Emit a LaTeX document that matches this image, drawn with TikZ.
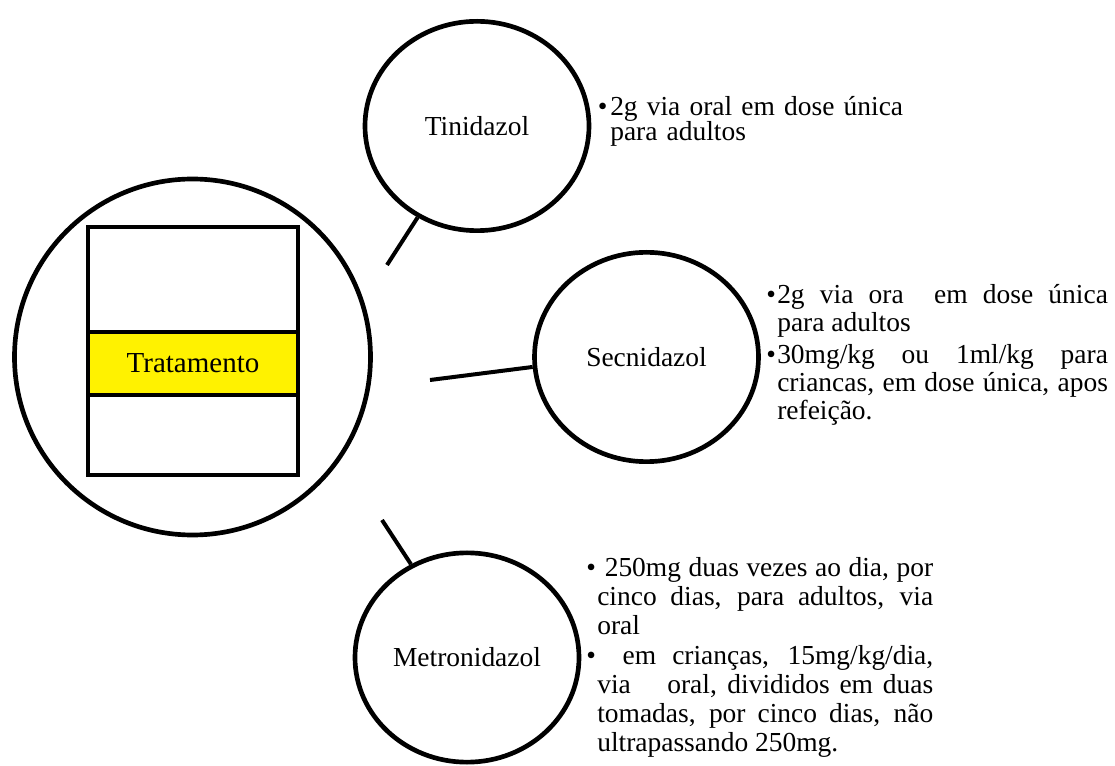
\documentclass[tikz,border=0pt]{standalone}
\usepackage{fontspec}
\setmainfont{Liberation Serif}
\usetikzlibrary{shapes.geometric}

\tikzset{
	drug/.style={draw, ellipse, line width=3.5pt, minimum width=168pt, minimum height=157pt, inner sep=0pt, font=\fontsize{20.6}{24}\selectfont},
	dose/.style={anchor=base west, inner sep=0pt, align=justify, font=\fontsize{20.6}{21}\selectfont},
	link/.style={line width=3pt},
}

\begin{document}
\begin{tikzpicture}[x=0.75pt, y=-0.75pt]
		\useasboundingbox (0,0) rectangle (1115,766);
		% Tratamento
		\node[draw, circle, line width=3.5pt, minimum size=267pt, inner sep=0pt] (bigc) at (192.5,357) {};
		\node[draw, line width=3.2pt, minimum width=157.5pt, minimum height=186pt, inner sep=0pt] (frame) at (193,351) {};
		\node[draw, fill=yellow, line width=3.4pt, minimum width=157.5pt, minimum height=47.25pt, inner sep=0pt, font=\fontsize{21.75}{24}\selectfont] (band) at (193,363.5) {Tratamento};
		% medicamentos
		\node[drug] (tini) at (477,126) {Tinidazol};
		\node[drug] (secn) at (646.5,357) {Secnidazol};
		\node[drug] (metro) at (467,657.5) {Metronidazol};
		\coordinate (tfree) at (387,265);
		\coordinate (sfree) at (430,380);
		\coordinate (mfree) at (382,520);
		\draw[link] (tfree) -- (tini.237);
		\draw[link] (sfree) -- (secn.185);
		\draw[link] (mfree) -- (metro.121);
		% doses
		\node[dose, text width=230pt, align=left, font=\fontsize{20.6}{18.75}\selectfont] (tdose) at (610,116)
			{\noindent\llap{\textbullet\hspace{2pt}}2g via oral em dose única\\ para adultos};
		\node[dose, text width=248pt] (sdose) at (777,304)
			{\noindent\llap{\textbullet\hspace{1pt}}2g via ora\ \ em dose única\linebreak
			para adultos\par\vspace{3pt}
			\noindent\llap{\textbullet\hspace{1pt}}30mg/kg ou 1ml/kg para\linebreak
			criancas, em dose única, apos\linebreak
			refeição.};
		\node[dose, text width=252pt, font=\fontsize{20.6}{21.6}\selectfont] (mdose) at (597,577)
			{\noindent\llap{\textbullet\hspace{1pt}}\ 250mg duas vezes ao dia, por\linebreak
			cinco dias, para adultos, via\linebreak
			oral\par\vspace{1pt}
			\noindent\llap{\textbullet\hspace{1pt}}\hspace*{19pt}em crianças, 15mg/kg/dia,\linebreak
			via\hspace{20pt} oral, divididos em duas\linebreak
			tomadas, por cinco dias, não\linebreak
			ultrapassando 250mg.};
	\end{tikzpicture}
\end{document}
